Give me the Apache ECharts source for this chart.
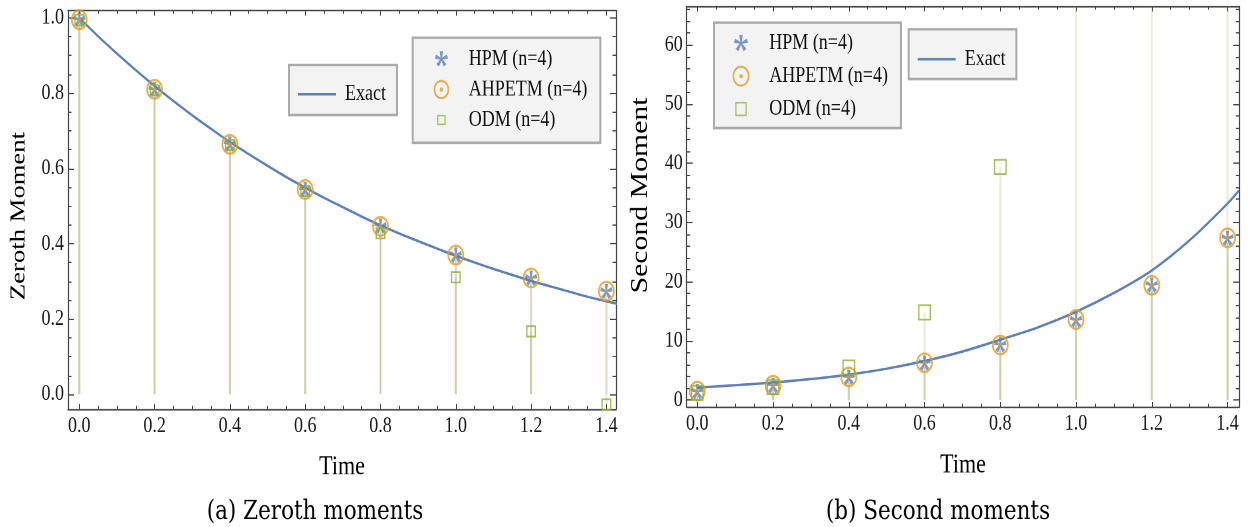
<!DOCTYPE html>
<html>
<head>
<meta charset="utf-8">
<script src="https://cdn.jsdelivr.net/npm/echarts@6/dist/echarts.min.js"></script>
<style>
html,body{margin:0;padding:0;background:#fff;}
#wrap{width:1252px;height:527px;overflow:hidden;background:#fff;}
#c{width:1252px;height:425px;transform:scaleY(1.24);transform-origin:0 0;}
</style>
</head>
<body>
<div id="wrap"><div id="c"></div></div>
<script>
// ---------------- data ----------------
const timePoints = [0, 0.2, 0.4, 0.6, 0.8, 1.0, 1.2, 1.4];

const xMajorTicks = [0, 0.2, 0.4, 0.6, 0.8, 1.0, 1.2, 1.4];
const xMinorTicks = [0.05, 0.1, 0.15, 0.25, 0.3, 0.35, 0.45, 0.5, 0.55, 0.65, 0.7, 0.75,
                     0.85, 0.9, 0.95, 1.05, 1.1, 1.15, 1.25, 1.3, 1.35];
const yMajorTicksA = [0, 0.2, 0.4, 0.6, 0.8, 1.0];
const yMinorTicksA = [0.05, 0.1, 0.15, 0.25, 0.3, 0.35, 0.45, 0.5, 0.55, 0.65, 0.7, 0.75, 0.85, 0.9, 0.95];
const yMajorTicksB = [0, 10, 20, 30, 40, 50, 60];
const yMinorTicksB = [2, 4, 6, 8, 12, 14, 16, 18, 22, 24, 26, 28, 32, 34, 36, 38, 42, 44, 46, 48,
                      52, 54, 56, 58, 62, 64, 66];

// (a) zeroth moments
const exactTimeA = [0, 0.05, 0.1, 0.15, 0.2, 0.25, 0.3, 0.35, 0.4, 0.45, 0.5, 0.55, 0.6, 0.65, 0.7,
                    0.75, 0.8, 0.85, 0.9, 0.95, 1.0, 1.05, 1.1, 1.15, 1.2, 1.25, 1.3, 1.35, 1.4, 1.43];
const exactZeroth = [1.0, 0.951, 0.905, 0.861, 0.819, 0.779, 0.741, 0.705, 0.670, 0.638, 0.607, 0.577,
                     0.549, 0.522, 0.497, 0.472, 0.449, 0.427, 0.407, 0.387, 0.368, 0.350, 0.333, 0.317,
                     0.301, 0.287, 0.273, 0.259, 0.247, 0.240];
const hpmZeroth    = [0.995, 0.809, 0.664, 0.543, 0.446, 0.369, 0.308, 0.273];
const ahpetmZeroth = [0.995, 0.810, 0.664, 0.544, 0.446, 0.370, 0.309, 0.274];
const odmZeroth    = [0.994, 0.808, 0.662, 0.540, 0.428, 0.311, 0.167, -0.027];

// (b) second moments
const exactTimeB = [0, 0.1, 0.2, 0.3, 0.4, 0.5, 0.6, 0.7, 0.8, 0.9, 1.0, 1.1, 1.2, 1.3, 1.4, 1.43];
const exactSecond = [2.1, 2.5, 2.95, 3.55, 4.3, 5.3, 6.6, 8.2, 10.2, 12.3, 14.9, 18.1, 21.9, 27.0, 33.2, 35.4];
const hpmSecond    = [1.4, 2.4, 3.8, 6.2, 9.3, 13.5, 19.4, 27.3];
const ahpetmSecond = [1.5, 2.5, 3.9, 6.3, 9.3, 13.6, 19.4, 27.4];
const odmSecond    = [1.2, 2.2, 5.5, 14.8, 39.4, 120, 300, 800];

// ---------------- style ----------------
const SERIF = "'Liberation Serif','Times New Roman',serif";
const FRAME = '#444';
const BLUE = '#5e81b5', ORANGE = '#e19c24', GREEN = '#8fb032';
const STEM = {HPM: 'rgba(94,129,181,0.2)', AHP: 'rgba(225,156,36,0.2)', ODM: 'rgba(143,176,50,0.2)'};
const rangeXA = [-0.03, 1.4255], rangeYA = [-0.039, 1.019];
const rangeXB = [-0.028, 1.431], rangeYB = [-1.13, 66.5];

function f(n){return n.toFixed(2);}
function pads(p){
  const e = 0.01;
  return 'M'+f(-p)+' '+f(-p)+'L'+f(-p+e)+' '+f(-p)+'L'+f(-p)+' '+f(-p+e)+'Z'+
         'M'+f(p)+' '+f(p)+'L'+f(p-e)+' '+f(p)+'L'+f(p)+' '+f(p-e)+'Z';
}
function asterisk(r, wb, wt, pad){
  let d = '';
  for (let k = 0; k < 5; k++) {
    const a = (-90 + 72 * k) * Math.PI / 180;
    const ux = Math.cos(a), uy = Math.sin(a), px = -uy, py = ux;
    const pts = [[px*wb/2, py*wb/2], [px*wt/2 + ux*r, py*wt/2 + uy*r],
                 [-px*wt/2 + ux*r, -py*wt/2 + uy*r], [-px*wb/2, -py*wb/2]];
    d += 'M' + pts.map(p => f(p[0]) + ' ' + f(p[1])).join('L') + 'Z';
  }
  return 'path://' + d + pads(pad);
}
function ringDot(R, r, dot, pad){
  const c = (rad, sw) => 'M0 '+f(-rad)+'A'+rad+' '+rad+' 0 1 '+sw+' 0 '+f(rad)+'A'+rad+' '+rad+' 0 1 '+sw+' 0 '+f(-rad)+'Z';
  return 'path://' + c(R,1) + c(r,0) + c(dot,1) + pads(pad);
}
function squareRing(a, b, pad){
  return 'path://M'+f(-a)+' '+f(-a)+'L'+f(a)+' '+f(-a)+'L'+f(a)+' '+f(a)+'L'+f(-a)+' '+f(a)+'Z'+
         'M'+f(-b)+' '+f(-b)+'L'+f(-b)+' '+f(b)+'L'+f(b)+' '+f(b)+'L'+f(b)+' '+f(-b)+'Z'+pads(pad);
}
const LINE_ICON = 'path://M0 0H38V2H0Z';

function xAxes(gi, range, name){
  const base = {type:'value', gridIndex:gi, min:range[0], max:range[1], splitLine:{show:false},
                axisPointer:{show:false}, silent:true};
  const ls = {color:FRAME, width:1.2};
  const ts = {color:FRAME, width:1};
  return [
    Object.assign({}, base, {position:'bottom', name:name, nameLocation:'middle', nameGap:36,
      nameTextStyle:{fontFamily:SERIF, fontSize:22, color:'#000'},
      axisLine:{show:true, onZero:false, lineStyle:ls},
      axisTick:{show:true, inside:true, length:4, customValues:xMajorTicks, lineStyle:ts},
      axisLabel:{show:true, customValues:xMajorTicks, formatter:v => v.toFixed(1), margin:5,
                 fontFamily:SERIF, fontSize:18, color:'#1a1a1a'}}),
    Object.assign({}, base, {position:'bottom', axisLine:{show:false, onZero:false},
      axisTick:{show:true, inside:true, length:2.5, customValues:xMinorTicks, lineStyle:ts},
      axisLabel:{show:false}}),
    Object.assign({}, base, {position:'top', axisLine:{show:true, onZero:false, lineStyle:ls},
      axisTick:{show:true, inside:true, length:4, customValues:xMajorTicks, lineStyle:ts},
      axisLabel:{show:false}}),
    Object.assign({}, base, {position:'top', axisLine:{show:false, onZero:false},
      axisTick:{show:true, inside:true, length:2.5, customValues:xMinorTicks, lineStyle:ts},
      axisLabel:{show:false}})
  ];
}
function yAxes(gi, range, major, minor, fmt, name, gap, namePad, nameSize){
  const base = {type:'value', gridIndex:gi, min:range[0], max:range[1], splitLine:{show:false},
                axisPointer:{show:false}, silent:true};
  const ls = {color:FRAME, width:1.2};
  const ts = {color:FRAME, width:1};
  return [
    Object.assign({}, base, {position:'left', name:name, nameLocation:'middle', nameGap:gap,
      nameTextStyle:{fontFamily:SERIF, fontSize:nameSize, color:'#000', padding:namePad},
      axisLine:{show:true, onZero:false, lineStyle:ls},
      axisTick:{show:true, inside:true, length:6, customValues:major, lineStyle:ts},
      axisLabel:{show:true, customValues:major, formatter:fmt, margin:4,
                 fontFamily:SERIF, fontSize:18, color:'#1a1a1a'}}),
    Object.assign({}, base, {position:'left', axisLine:{show:false, onZero:false},
      axisTick:{show:true, inside:true, length:3.5, customValues:minor, lineStyle:ts},
      axisLabel:{show:false}}),
    Object.assign({}, base, {position:'right', axisLine:{show:true, onZero:false, lineStyle:ls},
      axisTick:{show:true, inside:true, length:6, customValues:major, lineStyle:ts},
      axisLabel:{show:false}}),
    Object.assign({}, base, {position:'right', axisLine:{show:false, onZero:false},
      axisTick:{show:true, inside:true, length:3.5, customValues:minor, lineStyle:ts},
      axisLabel:{show:false}})
  ];
}

function pairs(xs, ys){ return xs.map((x, i) => [x, ys[i]]); }
function stems(name, ys, color, ai, ymax){
  return {type:'custom', name:name, xAxisIndex:ai, yAxisIndex:ai, silent:true, z:1, clip:true,
    data: pairs(timePoints, ys),
    renderItem: function(params, api){
      const x = api.value(0), y = Math.min(api.value(1), ymax);
      const a = api.coord([x, 0]), b = api.coord([x, y]);
      return {type:'line', shape:{x1:a[0], y1:a[1], x2:b[0], y2:b[1]},
              style:{stroke:color, lineWidth:2}};
    }};
}
function panelSeries(ai, exT, exV, hpm, ahp, odm, ymax, sq){
  return [
    stems('stemH'+ai, hpm, STEM.HPM, ai, ymax),
    stems('stemA'+ai, ahp, STEM.AHP, ai, ymax),
    stems('stemO'+ai, odm, STEM.ODM, ai, ymax),
    {type:'line', name:'Exact', xAxisIndex:ai, yAxisIndex:ai, data:pairs(exT, exV), smooth:0.3,
     showSymbol:false, symbol:'none', color:BLUE, lineStyle:{color:BLUE, width:2}, z:2, silent:true,
     clip:true, emphasis:{disabled:true}},
    {type:'scatter', name:'HPM (n=4)', xAxisIndex:ai, yAxisIndex:ai, data:pairs(timePoints, hpm),
     symbol:asterisk(6, 1.3, 3.4, 6), symbolSize:12.5, color:BLUE, itemStyle:{color:BLUE}, z:3,
     silent:true, emphasis:{disabled:true}},
    {type:'scatter', name:'AHPETM (n=4)', xAxisIndex:ai, yAxisIndex:ai, data:pairs(timePoints, ahp),
     symbol:'circle', symbolSize:15, color:ORANGE,
     itemStyle:{color:'rgba(0,0,0,0)', borderColor:ORANGE, borderWidth:1.8}, z:4,
     silent:true, emphasis:{disabled:true}},
    {type:'scatter', name:'AHPETM dot', xAxisIndex:ai, yAxisIndex:ai, data:pairs(timePoints, ahp),
     symbol:'circle', symbolSize:3.6, itemStyle:{color:ORANGE}, z:4,
     silent:true, emphasis:{disabled:true}},
    {type:'scatter', name:'ODM (n=4)', xAxisIndex:ai, yAxisIndex:ai, data:pairs(timePoints, odm),
     symbol:'rect', symbolSize:sq, color:GREEN,
     itemStyle:{color:'rgba(0,0,0,0)', borderColor:GREEN, borderWidth:1.4}, z:5,
     silent:true, emphasis:{disabled:true}}
  ];
}

const legendText = {fontFamily:SERIF, fontSize:18, color:'#111'};
const legendBox = {orient:'vertical', backgroundColor:'#f3f3f3', borderColor:'#aaaaaa', borderWidth:2,
                   borderRadius:0, selectedMode:false, textStyle:legendText};
function markerLegend(left, top, padding, iw, gap, sizes){
  return Object.assign({}, legendBox, {left:left, top:top, padding:padding, itemWidth:iw, itemHeight:20,
    itemGap:gap,
    data:[
      {name:'HPM (n=4)', icon:asterisk(sizes.ast, 1.3, 3.4, 10), itemStyle:{color:BLUE, borderWidth:0}},
      {name:'AHPETM (n=4)', icon:ringDot(sizes.R, sizes.R - 1.7, 1.7, 10), itemStyle:{color:ORANGE, borderWidth:0}},
      {name:'ODM (n=4)', icon:squareRing(sizes.sq, sizes.sq - 1.2, 10), itemStyle:{color:GREEN, borderWidth:0}}
    ]});
}
function exactLegend(left, top, padding){
  return Object.assign({}, legendBox, {left:left, top:top, padding:padding, itemWidth:38, itemHeight:14,
    textStyle:Object.assign({}, legendText, {padding:[0,0,0,4]}),
    data:[{name:'Exact', icon:LINE_ICON, itemStyle:{color:BLUE, borderWidth:0}}]});
}

const option = {
  animation:false,
  backgroundColor:'#fff',
  title:[
    {text:'(a) Zeroth moments', left:315, top:402, textAlign:'center', padding:0,
     textStyle:{fontFamily:"'DejaVu Serif',serif", fontSize:21.5, fontWeight:'normal', color:'#000'}},
    {text:'(b) Second moments', left:938, top:402, textAlign:'center', padding:0,
     textStyle:{fontFamily:"'DejaVu Serif',serif", fontSize:21.5, fontWeight:'normal', color:'#000'}}
  ],
  grid:[
    {left:68, top:8.6, width:548, height:321.2, containLabel:false},
    {left:686.7, top:5.2, width:552.6, height:322.8, containLabel:false}
  ],
  xAxis: xAxes(0, rangeXA, 'Time').concat(xAxes(1, rangeXB, 'Time')),
  yAxis: yAxes(0, rangeYA, yMajorTicksA, yMinorTicksA, v => v.toFixed(1), 'Zeroth Moment', 38, [0, 10, 0, 0], 21.5)
         .concat(yAxes(1, rangeYB, yMajorTicksB, yMinorTicksB, v => String(Math.round(v)), 'Second Moment', 34, [0, 0, 0, 18], 24)),
  legend:[
    exactLegend(289, 52.4, [14.6, 11, 7.7, 9]),
    markerLegend(412.7, 30.4, [7.2, 13, 8.3, 18.7], 44.6, 4.6, {ast:6.3, R:7.8, sq:4.2}),
    markerLegend(714, 18.3, [6.6, 13, 5.3, 17], 46.6, 6.5, {ast:6.8, R:8.5, sq:5.7}),
    exactLegend(908.7, 23.6, [15.2, 10.7, 6.9, 9])
  ],
  series: panelSeries(0, exactTimeA, exactZeroth, hpmZeroth, ahpetmZeroth, odmZeroth, rangeYA[1], 8.5)
          .concat(panelSeries(4, exactTimeB, exactSecond, hpmSecond, ahpetmSecond, odmSecond, rangeYB[1], 11.5))
};

const chart = echarts.init(document.getElementById('c'), null, {renderer:'canvas', devicePixelRatio:2});
chart.setOption(option);
</script>
</body>
</html>
